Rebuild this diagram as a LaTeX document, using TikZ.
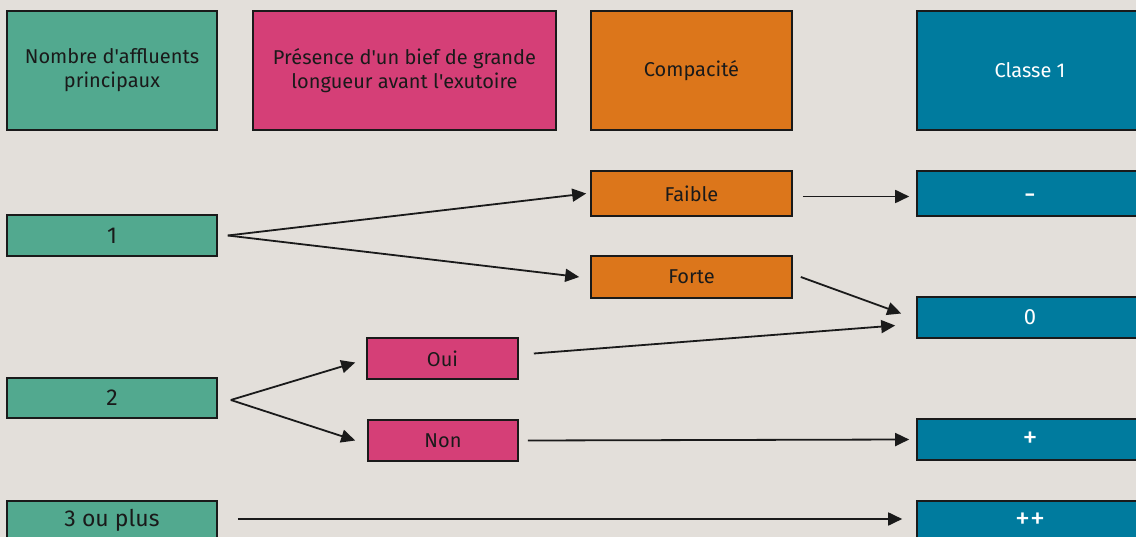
\documentclass[tikz,border=0pt]{standalone}
\usepackage{fontspec}
\setmainfont{Fira Sans}
\usepackage{tikz}
\usetikzlibrary{arrows.meta,positioning}
\definecolor{fondgris}{HTML}{E3DFDA}
\definecolor{cvert}{HTML}{52A98F}
\definecolor{crose}{HTML}{D53F77}
\definecolor{corange}{HTML}{DC761B}
\definecolor{cbleu}{HTML}{007B9E}
\definecolor{ctrait}{HTML}{1A1A1A}
\tikzset{
    boite/.style={draw=ctrait, line width=1.6pt, inner sep=0pt, align=center,
        text=ctrait, font=\fontsize{20}{24}\selectfont},
    entete/.style={boite, minimum height=119pt},
    ligne/.style={boite, minimum width=210pt, fill=cvert, font=\fontsize{23}{26}\selectfont},
    classe/.style={boite, fill=cbleu, text=white, minimum width=226pt, font=\fontsize{30}{32}\selectfont},
    fleche/.style={-{Triangle[length=14pt,width=13pt]}, draw=ctrait, line width=1.8pt},
}

\begin{document}
\begin{tikzpicture}[x=1pt,y=-1pt]
    \useasboundingbox (0,0) rectangle (1136,537);
    \clip (0,0) rectangle (1136,537);
    \fill[fondgris] (0,0) rectangle (1136,537);
    % Headers
    \node[entete, fill=cvert, minimum width=210pt] (hnombre) at (112,70.5) {Nombre d\textquotesingle affluents\\principaux};
    \node[entete, fill=crose, minimum width=303pt] (hbief) at (404.5,70.5) {Présence d\textquotesingle un bief de grande\\longueur avant l\textquotesingle exutoire};
    \node[entete, fill=corange, minimum width=201pt] (hcompac) at (691.5,70.5) {Compacité};
    \node[entete, fill=cbleu, minimum width=226pt, text=white] (hclasse) at (1030,70.5) {Classe 1};
    % Nombre d'affluents
    \node[ligne, minimum height=41pt] (n1) at (112,235.5) {1};
    \node[ligne, minimum height=40pt] (n2) at (112,398) {2};
    \node[ligne, minimum height=39pt] (n3) at (112,520.5) {3 ou plus};
    % Compacite
    \node[boite, fill=corange, minimum width=201pt, minimum height=45pt] (faible) at (691.5,193.5) {Faible};
    \node[boite, fill=corange, minimum width=201pt, minimum height=42pt] (forte) at (691.5,277) {Forte};
    % Bief
    \node[boite, fill=crose, minimum width=151pt, minimum height=41pt] (oui) at (442.5,358.5) {Oui};
    \node[boite, fill=crose, minimum width=150pt, minimum height=41pt] (non) at (443,440.5) {Non};
    % Classes
    \node[classe, minimum height=45pt] (cmoins) at (1030,193.5) {\raisebox{-11pt}[0pt][0pt]{-}};
    \node[classe, minimum height=41pt, font=\fontsize{22}{24}\selectfont] (czero) at (1030,317.5) {0};
    \node[classe, minimum height=41pt] (cplus) at (1030,439.5) {+};
    \node[classe, minimum height=40pt] (cpp) at (1030,521) {++};
    % Arrows
    \draw[fleche] ([xshift=10pt]n1.east) -- ([xshift=-4pt]faible.west);
    \draw[fleche] ([xshift=10pt]n1.east) -- ([xshift=-11pt]forte.west);
    \draw[fleche] ([shift={(10,3)}]faible.east) -- ([shift={(-7,3)}]cmoins.west);
    \draw[fleche] ([xshift=8pt]forte.east) -- ([shift={(-15,-4)}]czero.west);
    \draw[fleche] ([shift={(15,-5)}]oui.east) -- ([shift={(-21,8)}]czero.west);
    \draw[fleche] ([shift={(13,2)}]n2.east) -- ([shift={(-11,4)}]oui.west);
    \draw[fleche] ([shift={(13,2)}]n2.east) -- ([xshift=-12pt]non.west);
    \draw[fleche] ([xshift=9pt]non.east) -- ([xshift=-7pt]cplus.west);
    \draw[fleche] ([shift={(20,-1.5)}]n3.east) -- ([shift={(-14,-2)}]cpp.west);
\end{tikzpicture}
\end{document}
